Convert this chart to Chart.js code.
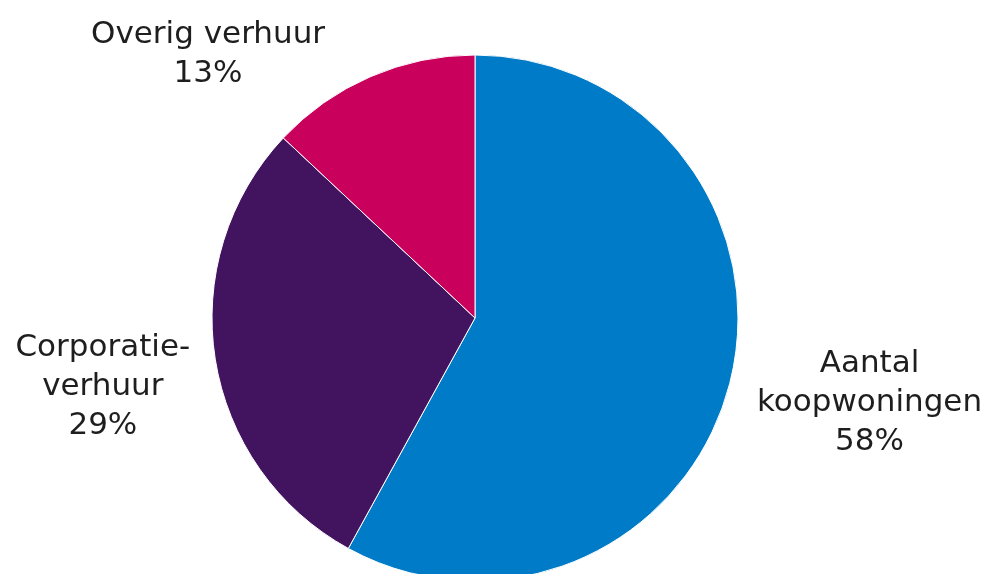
<!DOCTYPE html>
<html>
<head>
<meta charset="utf-8">
<script src="https://cdn.jsdelivr.net/npm/chart.js@4/dist/chart.umd.min.js"></script>
<style>
  html, body { margin: 0; padding: 0; background: #fff; }
  #wrap { width: 990px; height: 574px; position: relative; }
</style>
</head>
<body>
<div id="wrap"><canvas id="chart"></canvas></div>
<script>
// slices, clockwise from the top
const labels = [['Aantal', 'koopwoningen'], ['Corporatie-', 'verhuur'], ['Overig verhuur']];
const shares = [58, 29, 13];
const colors = ['#007bc7', '#42145f', '#ca005d'];

// where each label's first line sits, relative to pie centre (in radii)
const labelSpots = [
    { dx: 1.50, dy: 0.205 },
    { dx: -1.415, dy: 0.145 },
    { dx: -1.015, dy: -1.045 }
];

const sliceLabels = {
    id: 'sliceLabels',
    afterDatasetsDraw(chart) {
        const ctx = chart.ctx;
        const arcs = chart.getDatasetMeta(0).data;
        ctx.save();
        ctx.font = '31px "DejaVu Sans", Verdana, sans-serif';
        ctx.fillStyle = '#1e1e1e';
        ctx.textAlign = 'center';
        ctx.textBaseline = 'alphabetic';
        arcs.forEach((arc, i) => {
            const r = arc.outerRadius;
            const x = arc.x + labelSpots[i].dx * r;
            let y = arc.y + labelSpots[i].dy * r;
            const lines = labels[i].concat([shares[i] + '%']);
            lines.forEach(line => {
                ctx.fillText(line, x, y);
                y += 39;
            });
        });
        ctx.restore();
    }
};

const ctx = document.getElementById('chart').getContext('2d');
const mychart = new Chart(ctx, {
    type: 'pie',
    data: {
        labels: labels.map(l => l.join(' ')),
        datasets: [{
            data: shares,
            backgroundColor: colors,
            borderColor: '#ffffff',
            borderWidth: 1
        }]
    },
    options: {
        responsive: true,
        maintainAspectRatio: false,
        animation: false,
        radius: 263,
        layout: { padding: { top: 62, right: 40, left: 0, bottom: 0 } },
        plugins: {
            legend: { display: false },
            tooltip: { enabled: false }
        }
    },
    plugins: [sliceLabels]
});
</script>
</body>
</html>
